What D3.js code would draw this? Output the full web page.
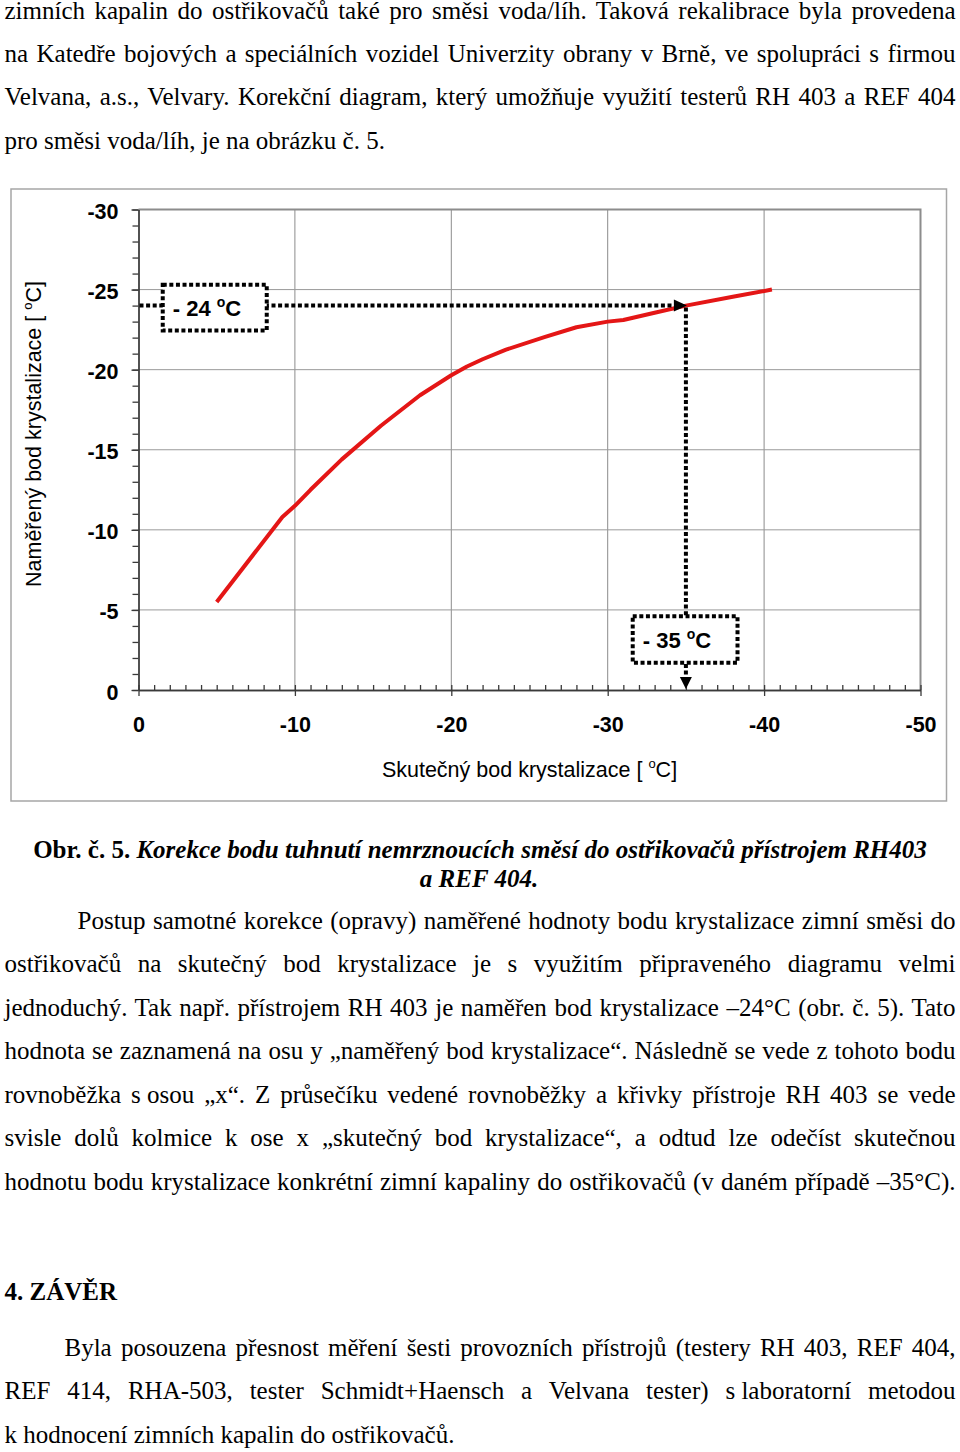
<!DOCTYPE html>
<html>
<head>
<meta charset="utf-8">
<script src="https://cdn.jsdelivr.net/npm/d3@7"></script>
<style>
  body { margin: 0; background: #fff; }
  .serif { font-family: "Liberation Serif", "Times New Roman", serif; font-size: 25px; fill: #000; }
  .sans { font-family: "Liberation Sans", Arial, sans-serif; fill: #000; }
  .axis path, .axis line { stroke: #3a3a3a; stroke-width: 1.3; }
  .axis text { font-family: "Liberation Sans", Arial, sans-serif; font-size: 21.5px; font-weight: bold; fill: #000; }
</style>
</head>
<body>
<script>
// text around the figure
var introLines = [
  "zimních kapalin do ostřikovačů také pro směsi voda/líh. Taková rekalibrace byla provedena",
  "na Katedře bojových a speciálních vozidel Univerzity obrany v Brně, ve spolupráci s firmou",
  "Velvana, a.s., Velvary. Korekční diagram, který umožňuje využití testerů RH 403 a REF 404",
  "pro směsi voda/líh, je na obrázku č. 5."
];
var bodyLines = [
  "Postup samotné korekce (opravy) naměřené hodnoty bodu krystalizace zimní směsi do",
  "ostřikovačů na skutečný bod krystalizace je s využitím připraveného diagramu velmi",
  "jednoduchý. Tak např. přístrojem RH 403 je naměřen bod krystalizace –24°C (obr. č. 5). Tato",
  "hodnota se zaznamená na osu y „naměřený bod krystalizace“. Následně se vede z tohoto bodu",
  "rovnoběžka s\u2005osou „x“. Z průsečíku vedené rovnoběžky a křivky přístroje RH 403 se vede",
  "svisle dolů kolmice k ose x „skutečný bod krystalizace“, a odtud lze odečíst skutečnou",
  "hodnotu bodu krystalizace konkrétní zimní kapaliny do ostřikovačů (v daném případě –35°C)."
];
var endLines = [
  "Byla posouzena přesnost měření šesti provozních přístrojů (testery RH 403, REF 404,",
  "REF 414, RHA-503, tester Schmidt+Haensch a Velvana tester) s\u2005laboratorní metodou",
  "k hodnocení zimních kapalin do ostřikovačů."
];
var captionBold = "Obr. č. 5. ";
var captionItalic = ["Korekce bodu tuhnutí nemrznoucích směsí do ostřikovačů přístrojem RH403", "a REF 404."];
var heading = "4. ZÁVĚR";

// chart data
var actualTemp = [-5, -9.2, -10, -11, -13, -15.5, -18, -20, -21, -22, -23.5, -26, -28, -30, -31, -33, -35, -38, -40.5];
var measuredTemp = [-5.5, -10.8, -11.5, -12.5, -14.4, -16.5, -18.4, -19.65, -20.2, -20.65, -21.25, -22.05, -22.65, -23.0, -23.1, -23.55, -24, -24.55, -25];
var xTicks = [0, -10, -20, -30, -40, -50];
var yTicks = [0, -5, -10, -15, -20, -25, -30];
var readMeasured = -24;
var readActual = -35;

var svg = d3.select("body").append("svg")
  .attr("width", 960)
  .attr("height", 1452);

// justified paragraph lines
function drawLines(lines, xFirst, xRest, y0, step, right, justifyLast) {
  lines.forEach(function(t, i) {
    var x0 = i == 0 ? xFirst : xRest;
    var txt = svg.append("text")
      .attr("class", "serif")
      .attr("x", x0)
      .attr("y", y0 + i * step)
      .text(t);
    if (i < lines.length - 1 || justifyLast) {
      var n = (t.match(/ /g) || []).length;
      var w = txt.node().getComputedTextLength();
      if (n > 0) txt.style("word-spacing", ((right - x0 - w) / n) + "px");
    }
  });
}

drawLines(introLines, 4.5, 4.5, 19, 43.2, 955.5, false);
drawLines(bodyLines, 77.5, 4.5, 928.5, 43.5, 955.5, true);
drawLines(endLines, 64.5, 4.5, 1355.5, 43.5, 955.5, false);

// caption
var cap1 = svg.append("text")
  .attr("class", "serif")
  .attr("x", 480)
  .attr("y", 858)
  .attr("text-anchor", "middle")
  .attr("font-weight", "bold");
cap1.append("tspan").text(captionBold);
cap1.append("tspan").attr("font-style", "italic").text(captionItalic[0]);
svg.append("text")
  .attr("class", "serif")
  .attr("x", 479)
  .attr("y", 887)
  .attr("text-anchor", "middle")
  .attr("font-weight", "bold")
  .attr("font-style", "italic")
  .text(captionItalic[1]);

svg.append("text")
  .attr("class", "serif")
  .attr("x", 4.5)
  .attr("y", 1300)
  .attr("font-weight", "bold")
  .text(heading);

// chart frame
svg.append("rect")
  .attr("x", 11)
  .attr("y", 189)
  .attr("width", 935.5)
  .attr("height", 612)
  .attr("fill", "none")
  .attr("stroke", "#a6a6a6")
  .attr("stroke-width", 1.5);

var xScale = d3.scaleLinear().domain([0, -50]).range([138.5, 920.5]);
var yScale = d3.scaleLinear().domain([0, -30]).range([690, 209.5]);

var chartGroup = svg.append("g");

// gridlines
chartGroup.selectAll(".vgrid")
  .data(xTicks.slice(1, -1))
  .enter()
  .append("line")
  .attr("x1", d => xScale(d))
  .attr("x2", d => xScale(d))
  .attr("y1", yScale(0))
  .attr("y2", yScale(-30))
  .attr("stroke", "#8c8c8c")
  .attr("stroke-width", 1);

chartGroup.selectAll(".hgrid")
  .data(yTicks.slice(1, -1))
  .enter()
  .append("line")
  .attr("x1", xScale(0))
  .attr("x2", xScale(-50))
  .attr("y1", d => yScale(d))
  .attr("y2", d => yScale(d))
  .attr("stroke", "#9a9a9a")
  .attr("stroke-width", 1);

// top and right border of plot area
chartGroup.append("path")
  .attr("d", `M${xScale(0)},${yScale(-30)}H${xScale(-50)}V${yScale(0)}`)
  .attr("fill", "none")
  .attr("stroke", "#8c8c8c")
  .attr("stroke-width", 2);

// axes
var leftMinor = d3.axisLeft(yScale)
  .tickValues(d3.range(0, -31, -1))
  .tickSize(6)
  .tickSizeOuter(0)
  .tickFormat("");
chartGroup.append("g")
  .attr("class", "axis")
  .attr("transform", `translate(${xScale(0)},0)`)
  .call(leftMinor);

var leftAxis = d3.axisLeft(yScale)
  .tickValues(yTicks)
  .tickSize(7)
  .tickSizeOuter(0)
  .tickPadding(13)
  .tickFormat(d => String(d));
chartGroup.append("g")
  .attr("class", "axis")
  .attr("transform", `translate(${xScale(0)},0)`)
  .call(leftAxis)
  .selectAll("text")
  .attr("dy", "0.42em");

var bottomMinor = d3.axisBottom(xScale)
  .tickValues(d3.range(0, -51, -1))
  .tickSize(-5)
  .tickSizeOuter(0)
  .tickFormat("");
chartGroup.append("g")
  .attr("class", "axis")
  .attr("transform", `translate(0,${yScale(0)})`)
  .call(bottomMinor);

var bottomAxis = d3.axisBottom(xScale)
  .tickValues(xTicks)
  .tickSize(6)
  .tickSizeOuter(0)
  .tickPadding(21)
  .tickFormat(d => String(d));
chartGroup.append("g")
  .attr("class", "axis")
  .attr("transform", `translate(0,${yScale(0)})`)
  .call(bottomAxis);

// axis titles
var xTitle = chartGroup.append("text")
  .attr("class", "sans")
  .attr("x", (xScale(0) + xScale(-50)) / 2)
  .attr("y", 776.7)
  .attr("text-anchor", "middle")
  .attr("font-size", 21.5);
xTitle.append("tspan").text("Skutečný bod krystalizace [ ");
xTitle.append("tspan").attr("font-size", 13).attr("dy", -9).text("o");
xTitle.append("tspan").attr("dy", 9).text("C]");

var yTitle = chartGroup.append("text")
  .attr("class", "sans")
  .attr("transform", "translate(40.5,434) rotate(-90)")
  .attr("text-anchor", "middle")
  .attr("font-size", 21.5);
yTitle.append("tspan").text("Naměřený bod krystalizace [ ");
yTitle.append("tspan").attr("font-size", 13).attr("dy", -9).text("o");
yTitle.append("tspan").attr("dy", 9).text("C]");

// red calibration curve
var curve = actualTemp.map((d, i) => [d, measuredTemp[i]]);
chartGroup.append("path")
  .datum(curve)
  .attr("d", d3.line().x(d => xScale(d[0])).y(d => yScale(d[1])))
  .attr("fill", "none")
  .attr("stroke", "#e41616")
  .attr("stroke-width", 4)
  .attr("stroke-linejoin", "round");

// reading guide (dotted)
var dots = { stroke: "#000", "stroke-width": 4, "stroke-dasharray": "4,2.6", fill: "none" };
var ax = xScale(readActual), my = yScale(readMeasured);

var guide = chartGroup.append("g");
guide.append("path").attr("d", `M${xScale(0) + 1},${my}H${ax - 11}`);
guide.append("path").attr("d", `M${ax},${my + 2}V${yScale(0) - 11}`);
guide.selectAll("path").each(function() {
  var p = d3.select(this);
  Object.keys(dots).forEach(k => p.attr(k, dots[k]));
});

// arrow heads
chartGroup.append("path")
  .attr("d", `M${ax + 1},${my}L${ax - 12},${my - 6}L${ax - 12},${my + 6}Z`)
  .attr("fill", "#000");
chartGroup.append("path")
  .attr("d", `M${ax},${yScale(0) - 1}L${ax - 6},${yScale(0) - 13}L${ax + 6},${yScale(0) - 13}Z`)
  .attr("fill", "#000");

// label boxes
function labelBox(x1, x2, y1, y2, value) {
  var r = chartGroup.append("rect")
    .attr("x", xScale(x1))
    .attr("y", yScale(y1))
    .attr("width", xScale(x2) - xScale(x1))
    .attr("height", yScale(y2) - yScale(y1));
  Object.keys(dots).forEach(k => r.attr(k, dots[k]));
  r.attr("fill", "#fff");
  var t = chartGroup.append("text")
    .attr("class", "sans")
    .attr("x", xScale(x1) + 10)
    .attr("y", (yScale(y1) + yScale(y2)) / 2 + 8.5)
    .attr("font-size", 22)
    .attr("font-weight", "bold");
  t.append("tspan").text("- " + Math.abs(value) + " ");
  t.append("tspan").attr("font-size", 14).attr("dy", -9.5).text("o");
  t.append("tspan").attr("dy", 9.5).text("C");
}
labelBox(-1.55, -8.2, -25.3, -22.45, readMeasured);
labelBox(-31.6, -38.3, -4.6, -1.7, readActual);
</script>
</body>
</html>
